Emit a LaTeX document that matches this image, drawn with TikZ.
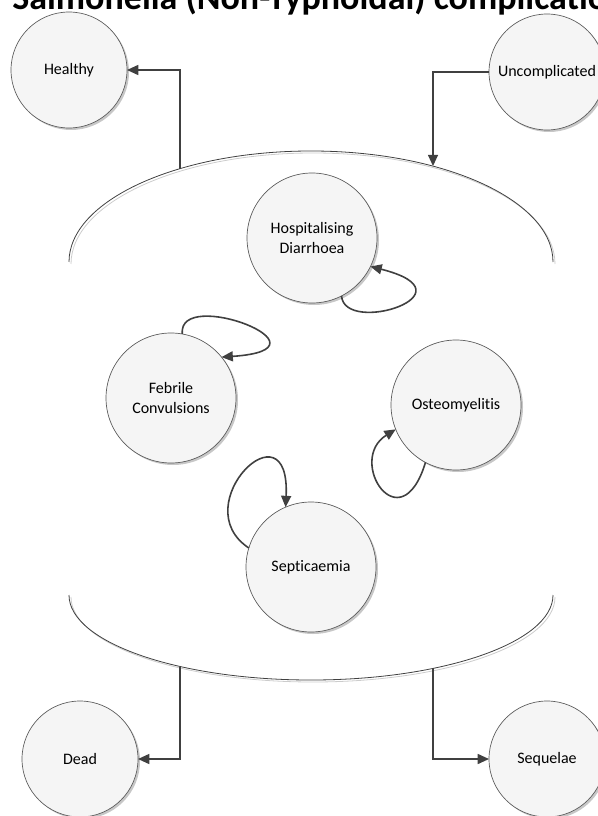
\documentclass[tikz,border=0pt]{standalone}
\usepackage{fontspec}
\setmainfont{Carlito}[Ligatures=NoCommon]
\usetikzlibrary{arrows.meta,shadows}
\begin{document}
\begin{tikzpicture}[x=0.75pt,y=-0.75pt,
    stnode/.style={circle,draw=black!65,line width=0.5pt,fill=black!4,minimum size=87pt,inner sep=0pt,outer sep=0pt,align=center,font=\fontsize{12}{15}\selectfont,general shadow={shadow xshift=1.5pt,shadow yshift=-1.5pt,fill=black!22}},
    bignode/.style={stnode,minimum size=97.5pt},
    conn/.style={draw=black!75,line width=1.2pt,-{Triangle[length=8.5pt,width=7.5pt]}},
    oval/.style={draw=black!75,line width=0.6pt},
    ovalshade/.style={draw=black!20,line width=0.6pt}]
    \useasboundingbox (0,0) rectangle (598,816);

    % title
    \node[font=\fontsize{27}{30}\selectfont\bfseries,anchor=base west,inner sep=0pt] (title) at (12,10) {Salmonella (Non-Typhoidal) complications};

    % oval round the complications
    \draw[ovalshade] (71,264) arc[start angle=180,end angle=360,x radius=242,y radius=111];
    \draw[oval] (69,262) arc[start angle=180,end angle=360,x radius=242,y radius=111];
    \draw[ovalshade] (71,597) arc[start angle=180,end angle=0,x radius=242,y radius=85];
    \draw[oval] (69,595) arc[start angle=180,end angle=0,x radius=242,y radius=85];
    \coordinate (topL) at (180,168.7);
    \coordinate (topR) at (433,166.1);
    \coordinate (botL) at (180,666.5);
    \coordinate (botR) at (433,668.4);

    % outer states
    \node[stnode] (healthy) at (69,70) {Healthy};
    \node[stnode] (uncomp) at (547,72) {Uncomplicated};
    \node[stnode] (dead) at (80,759) {Dead};
    \node[stnode] (sequel) at (547,759) {Sequelae};

    % complications
    \node[bignode] (hosp) at (312,238) {Hospitalising\\Diarrhoea};
    \node[bignode] (febrile) at (171,398) {Febrile\\Convulsions};
    \node[bignode] (osteo) at (456,405) {Osteomyelitis};
    \node[bignode] (sept) at (311,567) {Septicaemia};

    % transitions
    \draw[conn] (topL) |- (healthy);
    \draw[conn] (uncomp) -| (topR);
    \draw[conn] (botL) |- (dead);
    \draw[conn] (botR) |- (sequel);
    \draw[conn] (hosp.-63) .. controls +(3,40) and +(107,27) .. (hosp.-26);
    \draw[conn] (febrile.80) .. controls +(-5,-48) and +(120,-8) .. (febrile.39);
    \draw[conn] (osteo.-118) .. controls +(-25,82) and +(-50,31) .. (osteo.-158);
    \draw[conn] (sept.163) .. controls +(-65,-43) and +(5,-107) .. (sept.113);
\end{tikzpicture}
\end{document}
